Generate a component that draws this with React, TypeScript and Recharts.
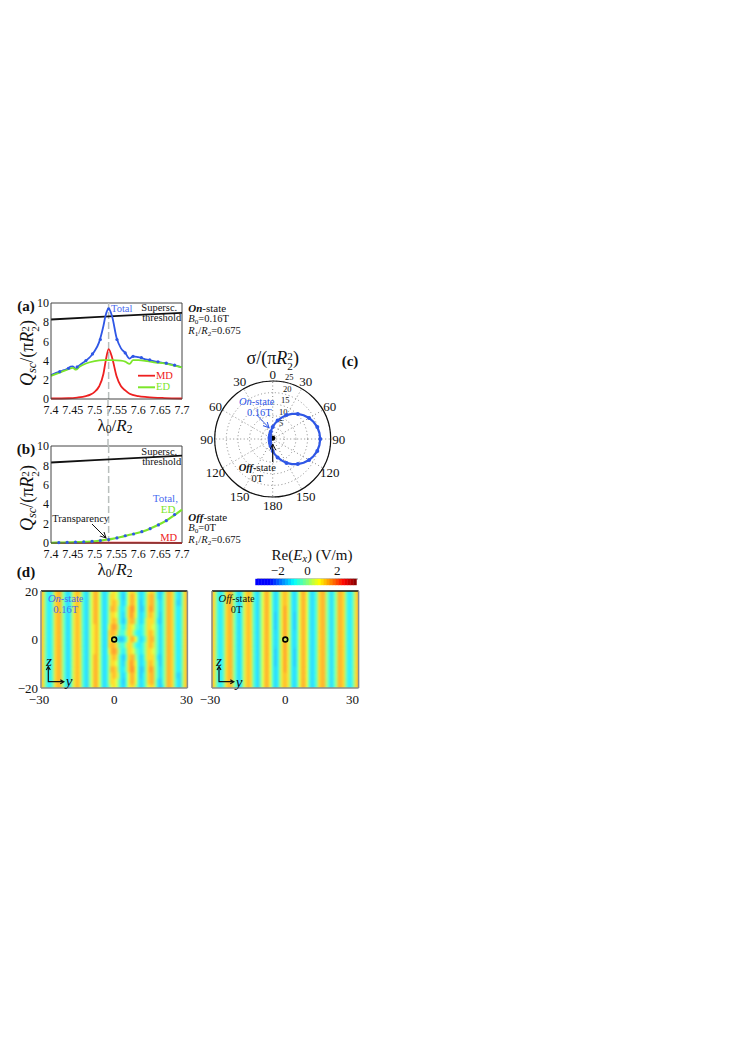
import {
  LineChart, Line, XAxis, YAxis, ReferenceLine, ScatterChart, Scatter,
  RadarChart, Radar, PolarGrid, PolarAngleAxis, PolarRadiusAxis,
} from 'recharts'

const SERIF = '"Liberation Serif", "Times New Roman", serif'
const BLUE = '#2f57e6'
const LIGHT_BLUE = '#4a6cf0'
const RED = '#ee2020'
const GREEN = '#7ce62a'

const xTicks = [7.4, 7.45, 7.5, 7.55, 7.6, 7.65, 7.7]
const yTicks = [0, 2, 4, 6, 8, 10]
const dipLine = 7.532

// panel (a)
const thresholdAX = [7.4, 7.5, 7.6, 7.7]
const thresholdAY = [8.28, 8.52, 8.76, 8.98]
const totalAX = [7.4, 7.42, 7.43, 7.44, 7.445, 7.45, 7.457, 7.465, 7.48, 7.49, 7.5, 7.51, 7.52, 7.525, 7.532, 7.54, 7.55, 7.56, 7.57, 7.58, 7.588, 7.6, 7.62, 7.64, 7.66, 7.68, 7.7]
const totalAY = [2.5, 2.85, 3.0, 3.2, 3.38, 3.4, 3.15, 3.5, 4.0, 4.4, 5.0, 5.9, 7.6, 8.7, 9.4, 8.6, 6.4, 5.3, 4.8, 4.2, 4.45, 4.35, 4.1, 3.9, 3.75, 3.55, 3.3]
const totalDotsAX = [7.42, 7.44, 7.46, 7.48, 7.495, 7.513, 7.532, 7.551, 7.57, 7.588, 7.607, 7.626, 7.645, 7.664, 7.683]
const totalDotsAY = [2.85, 3.2, 3.35, 4.0, 4.7, 6.2, 9.4, 6.2, 4.8, 4.45, 4.3, 4.08, 3.88, 3.73, 3.52]
const edAX = [7.4, 7.42, 7.44, 7.45, 7.457, 7.465, 7.48, 7.5, 7.52, 7.54, 7.56, 7.57, 7.58, 7.588, 7.6, 7.62, 7.64, 7.66, 7.68, 7.7]
const edAY = [2.4, 2.75, 3.1, 3.25, 3.05, 3.35, 3.7, 3.95, 4.05, 4.05, 4.0, 3.9, 3.65, 4.05, 4.05, 3.95, 3.8, 3.7, 3.5, 3.3]
const mdAX = [7.4, 7.44, 7.46, 7.48, 7.49, 7.5, 7.51, 7.52, 7.525, 7.532, 7.54, 7.55, 7.56, 7.57, 7.58, 7.6, 7.62, 7.66, 7.7]
const mdAY = [0.05, 0.08, 0.15, 0.3, 0.45, 0.75, 1.3, 2.6, 3.9, 5.2, 4.3, 2.4, 1.35, 0.9, 0.55, 0.3, 0.2, 0.1, 0.05]

// panel (b)
const thresholdBX = [7.4, 7.5, 7.6, 7.7]
const thresholdBY = [8.3, 8.54, 8.78, 9.0]
const edBX = [7.4, 7.42, 7.44, 7.46, 7.48, 7.5, 7.52, 7.54, 7.56, 7.58, 7.6, 7.62, 7.64, 7.66, 7.68, 7.7]
const edBY = [0.02, 0.04, 0.06, 0.08, 0.12, 0.18, 0.3, 0.42, 0.62, 0.85, 1.05, 1.35, 1.75, 2.2, 2.8, 3.45]
const mdBX = [7.4, 7.5, 7.6, 7.7]
const mdBY = [0.01, 0.02, 0.02, 0.01]
const totalDotsBX = [7.418, 7.437, 7.456, 7.475, 7.494, 7.513, 7.532, 7.551, 7.57, 7.589, 7.608, 7.627, 7.646, 7.664, 7.683]
const totalDotsBY = [0.04, 0.06, 0.08, 0.11, 0.17, 0.25, 0.35, 0.52, 0.75, 0.93, 1.17, 1.48, 1.86, 2.3, 2.93]

// panel (c)
const polarDegrees = [
  0, 7.5, 15, 22.5, 30, 37.5, 45, 52.5, 60, 67.5, 75, 82.5, 90, 97.5, 105, 112.5, 120, 127.5, 135, 142.5, 150, 157.5, 165, 172.5,
  180, 187.5, 195, 202.5, 210, 217.5, 225, 232.5, 240, 247.5, 255, 262.5, 270, 277.5, 285, 292.5, 300, 307.5, 315, 322.5, 330, 337.5, 345, 352.5,
]
const onStateSigma = [
  5.2, 6.6, 8.2, 10, 11.9, 13.6, 15.3, 16.8, 18.1, 19.1, 19.9, 20.3, 20.5, 20.3, 19.9, 19.1, 18.1, 16.8, 15.3, 13.6, 11.9, 10, 8.2, 6.6,
  5.2, 4.1, 3.2, 2.7, 2.3, 2, 1.7, 1.6, 1.5, 1.4, 1.3, 1.3, 1.3, 1.3, 1.3, 1.4, 1.5, 1.6, 1.7, 2, 2.3, 2.7, 3.2, 4.1,
]
const offStateSigma = [
  1, 1, 1, 1, 1, 0.9, 0.9, 0.8, 0.8, 0.7, 0.7, 0.6, 0.6, 0.5, 0.5, 0.4, 0.4, 0.3, 0.3, 0.3, 0.3, 0.3, 0.3, 0.3,
  0.3, 0.3, 0.3, 0.3, 0.3, 0.3, 0.3, 0.3, 0.4, 0.4, 0.5, 0.5, 0.6, 0.6, 0.7, 0.7, 0.8, 0.8, 0.9, 0.9, 1, 1, 1, 1,
]
const sigmaTicks = [0, 5, 10, 15, 20, 25]

// panel (d), Re(Ex) read as colour levels, one character per unit of y from -30 to 30
const fieldLevels = [-1.35, -1.2, -1.0, -0.65, -0.25, 0.15, 0.6, 1.05, 1.35, 1.6]
const zRows = [20, 17.5, 15, 12.5, 10, 7.5, 5, 2.5, 0, -2.5, -5, -7.5, -10, -12.5, -15, -17.5, -20]
const onLeft = '8742247885312578742146886312'
const onLeftNear = '8742247885312578742146786312'
const onZ20 = onLeft + '467642136775312467752025887421478'
const onZ17 = onLeft + '577642036886312478852035887421478'
const onZ15 = onLeft + '578752136886302478853135887411478'
const onZ12 = onLeft + '588742247996301479853135887422478'
const onZ10 = onLeft + '577642147986312478753035887422478'
const onZ7 = onLeft + '578742037885312577752035887422478'
const onZ5 = onLeftNear + '689853247764323577653135887422478'
const onZ2 = onLeftNear + '788743357753223578753135887422478'
const onZ0 = onLeftNear + '776310136886312478853135887422478'
const onRows = [onZ20, onZ17, onZ15, onZ12, onZ10, onZ7, onZ5, onZ2, onZ0, onZ2, onZ5, onZ7, onZ10, onZ12, onZ15, onZ17, onZ20]

const offFar = '8742247885312578742146886312578752136886312478853135887422478'
const offMid = '8742247885312578742146886312579752136886312478853135887422478'
const offNear = '8742247885312578742146886302579752036886312478853135887422478'
const offRows = [offFar, offFar, offFar, offMid, offNear, offNear, offNear, offMid, offMid, offMid, offNear, offNear, offNear, offMid, offFar, offFar, offFar]

const colorbarValues = [-3.4, -3.2, -3, -2.8, -2.6, -2.4, -2.2, -2, -1.8, -1.6, -1.4, -1.2, -1, -0.8, -0.6, -0.4, -0.2, 0, 0.2, 0.4, 0.6, 0.8, 1, 1.2, 1.4, 1.6, 1.8, 2, 2.2, 2.4, 2.6, 2.8, 3, 3.2]

const zip = (xs: number[], ys: number[]) => xs.map((x, i) => ({ x, v: ys[i] }))

// jet colour map over the colour bar range, wash lightens it like the printed field maps
const jet = (value: number, wash = 0) => {
  const t = (value + 3.4) / 6.7
  const ch = (c: number) => Math.round(255 * (wash + (1 - wash) * Math.max(0, Math.min(1, c))))
  const r = 1.5 - Math.abs(4 * t - 3)
  const g = 1.5 - Math.abs(4 * t - 2)
  const b = t < 0.125 ? 1 : 1.5 - Math.abs(4 * t - 1)
  return `rgb(${ch(r)},${ch(g)},${ch(b)})`
}

const fieldCells = (rows: string[]) =>
  rows.flatMap((row, r) =>
    row.split('').map((c, i) => ({ posY: i - 30, posZ: zRows[r], field: fieldLevels[Number(c)] })),
  )

const T = ({ x, y, size = 11, color = '#111', anchor = 'c', children, rotate }: any) => (
  <div
    style={{
      position: 'absolute',
      left: x,
      top: y,
      fontFamily: SERIF,
      fontSize: size,
      color,
      lineHeight: 1,
      whiteSpace: 'nowrap',
      transform: `translate(${anchor === 'c' ? '-50%' : anchor === 'r' ? '-100%' : '0'},-50%)${rotate ? ` rotate(${rotate}deg)` : ''}`,
    }}
  >
    {children}
  </div>
)

const Sub = ({ children, italic }: any) => (
  <span style={{ fontSize: '0.68em', verticalAlign: '-0.25em', lineHeight: 0, fontStyle: italic ? 'italic' : 'normal' }}>{children}</span>
)

const SquaredR2 = () => (
  <span>
    <i>R</i>
    <span style={{ display: 'inline-block', fontSize: '0.62em', lineHeight: '0.95em', verticalAlign: '-0.55em', textAlign: 'center' }}>
      2<br />2
    </span>
  </span>
)

const axisTick = { fontFamily: SERIF, fontSize: 12, fill: '#111' }
const fieldTick = { fontFamily: SERIF, fontSize: 13, fill: '#111' }
const minus = (v: number) => String(v).replace('-', '\u2212')

function SpectrumPanel({ top, height, marginTop, threshold, children }: any) {
  return (
    <div style={{ position: 'absolute', left: 0, top }}>
      <LineChart width={200} height={height} margin={{ top: marginTop, right: 18, bottom: 0, left: 31 }}>
        <XAxis
          type="number"
          dataKey="x"
          domain={[7.4, 7.7]}
          ticks={xTicks}
          tickFormatter={(v: number) => String(v)}
          tick={axisTick}
          tickLine={false}
          tickSize={0}
          tickMargin={6}
          stroke="#444"
          height={22}
          interval={0}
          allowDuplicatedCategory={false}
        />
        <YAxis type="number" domain={[0, 10]} ticks={yTicks} tick={axisTick} tickLine={false} tickSize={0} tickMargin={2} stroke="#444" width={20} interval={0} />
        <ReferenceLine y={10} stroke="#444" />
        <ReferenceLine x={7.7} stroke="#444" />
        <ReferenceLine x={dipLine} stroke="#b9bfbd" strokeWidth={1.5} strokeDasharray="7 3" />
        <Line data={threshold} dataKey="v" stroke="#111" strokeWidth={1.8} dot={false} isAnimationActive={false} />
        {children}
      </LineChart>
    </div>
  )
}

function FieldMap({ left, width, rows, showY, lastTickShift }: any) {
  const plotH = 97
  const cellW = width / 60
  const cellH = plotH / 16
  const chartW = width + 50
  const chartH = 135
  const margin = { top: 11, right: 20, bottom: 27, left: 30 }
  const Cell = (props: any) => {
    const p = props.payload ?? props
    return (
      <rect
        x={props.cx - cellW / 2 - 0.3}
        y={props.cy - cellH / 2 - 0.3}
        width={cellW + 0.6}
        height={cellH + 0.6}
        fill={jet(p.field, 0.18)}
      />
    )
  }
  const Ring = (props: any) => (
    <circle cx={props.cx} cy={props.cy} r={2.4} fill="#c9e25a" stroke="#000" strokeWidth={1.6} />
  )
  const XTick = ({ x, y, payload }: any) => (
    <text x={x + (payload.value === 30 ? lastTickShift : payload.value === -30 ? -2 : 0)} y={y + 14} textAnchor="middle" fontFamily={SERIF} fontSize={13} fill="#111">
      {minus(payload.value)}
    </text>
  )
  return (
    <>
      {/* colour cells sit in their own softened layer, clipped to the plot box */}
      <div style={{ position: 'absolute', left: left - 30, top: 580, clipPath: `inset(11px 20px 27px 30px)` }}>
        <div style={{ filter: 'blur(0.8px)' }}>
          <ScatterChart width={chartW} height={chartH} margin={margin}>
            <XAxis type="number" dataKey="posY" domain={[-30, 30]} hide />
            <YAxis type="number" dataKey="posZ" domain={[-20, 20]} hide />
            <Scatter data={fieldCells(rows)} shape={Cell} isAnimationActive={false} />
          </ScatterChart>
        </div>
      </div>
      <div style={{ position: 'absolute', left: left - 30, top: 580 }}>
        <ScatterChart width={chartW} height={chartH} margin={{ top: 11, right: 20, bottom: 0, left: 0 }}>
          <XAxis
            type="number"
            dataKey="posY"
            domain={[-30, 30]}
            ticks={[-30, 0, 30]}
            tick={XTick}
            tickLine={false}
            tickSize={0}
            stroke="#8a8a8a"
            strokeWidth={1.5}
            height={27}
            interval={0}
          />
          <YAxis
            type="number"
            dataKey="posZ"
            domain={[-20, 20]}
            ticks={[-20, 0, 20]}
            tick={showY ? fieldTick : false}
            tickFormatter={minus}
            tickLine={false}
            tickSize={0}
            tickMargin={3}
            stroke="#8a8a8a"
            strokeWidth={1.5}
            width={30}
            interval={0}
          />
          <ReferenceLine y={20} stroke="#111" strokeWidth={1.5} />
          <ReferenceLine x={30} stroke="#8a8a8a" strokeWidth={1.5} />
          <Scatter data={[{ posY: 0, posZ: 0 }]} shape={Ring} isAnimationActive={false} />
        </ScatterChart>
      </div>
    </>
  )
}

function Colorbar() {
  const Cell = (props: any) => (
    <rect x={props.cx - 1.7} y={props.cy - 3.2} width={3.4} height={6.4} fill={jet((props.payload ?? props).barValue)} />
  )
  return (
    <div style={{ position: 'absolute', left: 247, top: 560 }}>
      <ScatterChart width={125} height={50} margin={{ top: 0, right: 14, bottom: 25, left: 10 }}>
        <XAxis
          type="number"
          orientation="top"
          dataKey="barValue"
          domain={[-3.4, 3.4]}
          ticks={[-2, 0, 2]}
          tick={fieldTick}
          tickFormatter={minus}
          tickLine={false}
          tickSize={0}
          tickMargin={4}
          stroke="#8a8a8a"
          height={19}
          interval={0}
        />
        <YAxis type="number" dataKey="row" domain={[0, 1]} hide />
        <Scatter data={colorbarValues.map(barValue => ({ barValue, row: 0.5 }))} shape={Cell} isAnimationActive={false} />
      </ScatterChart>
    </div>
  )
}

function PolarPanel() {
  const data = polarDegrees.map((deg, i) => ({ deg, on: onStateSigma[i], off: offStateSigma[i] }))
  const AngleTick = ({ x, y, payload }: any) => {
    const deg = payload.value
    if (deg % 30 !== 0) return null
    return (
      <text x={x} y={deg === 0 ? y + 1.5 : y} textAnchor="middle" dominantBaseline="central" fontFamily={SERIF} fontSize={13} fill="#111">
        {deg > 180 ? 360 - deg : deg}
      </text>
    )
  }
  const RadiusTick = ({ x, y, payload }: any) =>
    payload.value === 0 ? null : (
      <text x={x + 6.5} y={y - 4.5} textAnchor="middle" dominantBaseline="central" fontFamily={SERIF} fontSize={8.5} fill="#111">
        {payload.value}
      </text>
    )
  // markers only every 15 degrees
  const OnDot = (props: any) =>
    polarDegrees[props.index] % 15 === 0 ? <circle key={props.index} cx={props.cx} cy={props.cy} r={2} fill={BLUE} /> : <g key={props.index} />
  return (
    <div style={{ position: 'absolute', left: 192, top: 359 }}>
      <RadarChart width={162} height={160} data={data} cx={80.7} cy={80} outerRadius={58} margin={{ top: 0, right: 0, bottom: 0, left: 0 }}>
        <PolarGrid
          gridType="circle"
          polarAngles={[0, 30, 60, 90, 120, 150, 180, 210, 240, 270, 300, 330]}
          stroke="#8a8a8a"
          strokeDasharray="1 2.5"
        />
        <PolarAngleAxis dataKey="deg" tick={AngleTick} tickLine={false} axisLineType="circle" axisLine={{ stroke: '#111', strokeWidth: 1.2 }} />
        <PolarRadiusAxis angle={80} domain={[0, 25]} ticks={sigmaTicks} tick={RadiusTick} axisLine={false} tickLine={false} />
        <Radar dataKey="on" stroke={BLUE} strokeWidth={2.2} fill="none" dot={OnDot} isAnimationActive={false} />
        <Radar dataKey="off" stroke="#000" strokeWidth={2} fill="#000" dot={false} isAnimationActive={false} />
      </RadarChart>
    </div>
  )
}

// thin annotation arrows and legend keys that sit above the panels
const Annotations = () => (
  <svg width={752} height={1063} style={{ position: 'absolute', left: 0, top: 0, pointerEvents: 'none' }}>
    <defs>
      <marker id="headK" markerWidth="7" markerHeight="7" refX="6" refY="3" orient="auto" markerUnits="userSpaceOnUse">
        <path d="M0,0 L6,3 L0,6" fill="none" stroke="#111" strokeWidth={1} />
      </marker>
      <marker id="headB" markerWidth="7" markerHeight="7" refX="6" refY="3" orient="auto" markerUnits="userSpaceOnUse">
        <path d="M0,0 L6,3 L0,6" fill="none" stroke={BLUE} strokeWidth={1} />
      </marker>
    </defs>
    <line x1={108} y1={399} x2={108} y2={446} stroke="#b9bfbd" strokeWidth={1.5} strokeDasharray="7 3" />
    <line x1={138} y1={375.7} x2={155} y2={375.7} stroke={RED} strokeWidth={1.8} />
    <line x1={138} y1={387.3} x2={155} y2={387.3} stroke={GREEN} strokeWidth={2} />
    <line x1={92} y1={524} x2={106} y2={538} stroke="#111" markerEnd="url(#headK)" />
    <line x1={256.7} y1={415} x2={269} y2={427.7} stroke={BLUE} markerEnd="url(#headB)" />
    <line x1={272.7} y1={462} x2={272.7} y2={444} stroke="#111" strokeWidth={1.2} markerEnd="url(#headK)" />
    <g stroke="#111" strokeWidth={1.2} fill="none">
      <polyline points="48.3,667 48.3,681.7 63.3,681.7" />
      <path d="M46.3,670 L48.3,666.5 L50.3,670 M60.3,679.7 L63.8,681.7 L60.3,683.7" />
      <polyline points="219,667 219,681.7 233.3,681.7" />
      <path d="M217,670 L219,666.5 L221,670 M230.3,679.7 L233.8,681.7 L230.3,683.7" />
    </g>
  </svg>
)

const dotStyle = { r: 1.6, fill: BLUE, strokeWidth: 0 }

export default function App() {
  return (
    <div style={{ position: 'absolute', left: 0, top: 0, width: 752, height: 1063, background: '#fff', overflow: 'hidden' }}>
      <SpectrumPanel top={290} height={131} marginTop={13} threshold={zip(thresholdAX, thresholdAY)}>
        <Line data={zip(mdAX, mdAY)} dataKey="v" type="monotone" stroke={RED} strokeWidth={1.8} dot={false} isAnimationActive={false} />
        <Line data={zip(totalAX, totalAY)} dataKey="v" type="monotone" stroke={BLUE} strokeWidth={1.8} dot={false} isAnimationActive={false} />
        <Line data={zip(edAX, edAY)} dataKey="v" type="monotone" stroke={GREEN} strokeWidth={1.8} dot={false} isAnimationActive={false} />
        <Line data={zip(totalDotsAX, totalDotsAY)} dataKey="v" stroke="none" dot={dotStyle} isAnimationActive={false} />
      </SpectrumPanel>

      <SpectrumPanel top={433} height={132} marginTop={13} threshold={zip(thresholdBX, thresholdBY)}>
        <Line data={zip(mdBX, mdBY)} dataKey="v" stroke={RED} strokeWidth={2} dot={false} isAnimationActive={false} />
        <Line data={zip(edBX, edBY)} dataKey="v" type="monotone" stroke={GREEN} strokeWidth={2.2} dot={false} isAnimationActive={false} />
        <Line data={zip(totalDotsBX, totalDotsBY)} dataKey="v" stroke="none" dot={dotStyle} isAnimationActive={false} />
      </SpectrumPanel>

      <PolarPanel />
      <FieldMap left={41.3} width={146.4} rows={onRows} showY lastTickShift={-1} />
      <FieldMap left={211.7} width={146.6} rows={offRows} showY={false} lastTickShift={-6} />
      <Colorbar />
      <Annotations />

      <T x={26} y={305.7} size={15}><b>(a)</b></T>
      <T x={26} y={449} size={15}><b>(b)</b></T>
      <T x={350} y={361} size={15}><b>(c)</b></T>
      <T x={26} y={572} size={15}><b>(d)</b></T>

      <T x={29} y={353} size={18} rotate={-90}><i>Q</i><Sub italic>sc</Sub>/(π<SquaredR2 />)</T>
      <T x={29} y={498} size={18} rotate={-90}><i>Q</i><Sub italic>sc</Sub>/(π<SquaredR2 />)</T>
      <T x={115} y={425} size={17}>λ<Sub>0</Sub>/<i>R</i><Sub>2</Sub></T>
      <T x={115} y={569} size={17}>λ<Sub>0</Sub>/<i>R</i><Sub>2</Sub></T>

      <T x={121.7} y={309} size={10.5} color={LIGHT_BLUE}>Total</T>
      <T x={159.3} y={307.7} size={10.5}>Supersc.</T>
      <T x={161.7} y={318.3} size={10.5}>threshold</T>
      <T x={156} y={375.7} size={10.5} color={RED} anchor="l">MD</T>
      <T x={156} y={387.3} size={10.5} color={GREEN} anchor="l">ED</T>
      <T x={188.3} y={307.7} anchor="l"><b><i>On</i></b>-state</T>
      <T x={188.3} y={319.3} size={10.5} anchor="l"><i>B</i><Sub>0</Sub>=0.16T</T>
      <T x={188.3} y={330.7} size={10.5} anchor="l"><i>R</i><Sub>1</Sub>/<i>R</i><Sub>2</Sub>=0.675</T>

      <T x={159.3} y={451.7} size={10.5}>Supersc.</T>
      <T x={161.7} y={461.7} size={10.5}>threshold</T>
      <T x={165.3} y={497.7} size={11} color={LIGHT_BLUE}>Total,</T>
      <T x={168} y={509} size={11} color={GREEN}>ED</T>
      <T x={80.7} y={519} size={10.5}>Transparency</T>
      <T x={168.7} y={537.7} size={10.5} color={RED}>MD</T>
      <T x={188.3} y={517.3} anchor="l"><b><i>Off</i></b>-state</T>
      <T x={188.3} y={528.3} size={10.5} anchor="l"><i>B</i><Sub>0</Sub>=0T</T>
      <T x={188.3} y={540} size={10.5} anchor="l"><i>R</i><Sub>1</Sub>/<i>R</i><Sub>2</Sub>=0.675</T>

      <T x={272.7} y={360} size={18}>σ/(π<SquaredR2 />)</T>
      <T x={256.7} y={401.7} size={10.5} color={BLUE}><i>On</i>-state</T>
      <T x={259.3} y={412.7} size={10.5} color={BLUE}>0.16T</T>
      <T x={257.3} y={468.3} size={10.5}><b><i>Off</i></b>-state</T>
      <T x={257.3} y={479} size={10.5}>0T</T>

      <T x={65.7} y={599.3} size={10.5} color={LIGHT_BLUE}><i>On</i>-state</T>
      <T x={65.7} y={610} size={10.5} color={LIGHT_BLUE}>0.16T</T>
      <T x={236.7} y={599.3} size={10.5}><i>Off</i>-state</T>
      <T x={236.7} y={610} size={10.5}>0T</T>
      <T x={49} y={660.7} size={15}><i>z</i></T>
      <T x={69} y={681} size={15}><i>y</i></T>
      <T x={219} y={660.7} size={15}><i>z</i></T>
      <T x={239} y={681.7} size={15}><i>y</i></T>

      <T x={312} y={555} size={15}>Re(<i>E</i><Sub italic>x</Sub>) (V/m)</T>
    </div>
  )
}
